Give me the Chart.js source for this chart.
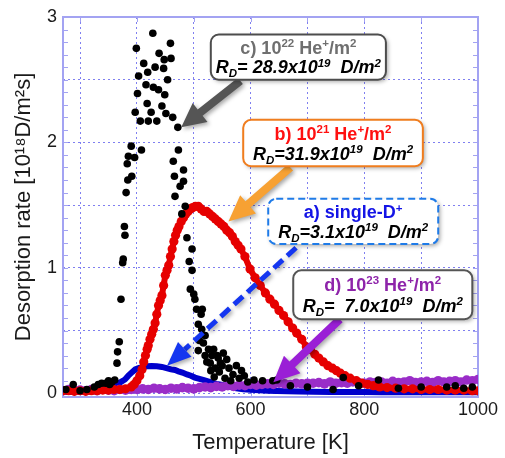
<!DOCTYPE html>
<html>
<head>
<meta charset="utf-8">
<script src="https://cdn.jsdelivr.net/npm/chart.js@4.4.1/dist/chart.umd.min.js"></script>
<style>
  body { margin: 0; background: #fff; }
  #wrap { width: 505px; height: 458px; }
</style>
</head>
<body>
<div id="wrap"><canvas id="tds"></canvas></div>
<script>
// c) 10^22 He+/m2 - black scatter
var blackT = [275, 288, 300, 312, 325, 332, 338, 345, 350, 352, 356, 361,
  365, 366, 369, 372, 375, 376, 378, 379, 381, 383, 384, 385, 390, 391, 396, 397, 399, 401,
  403, 406, 408, 412, 416, 418, 419, 420, 425, 428, 429, 432, 435, 438, 439, 444, 447, 448,
  449, 451, 454, 459, 460, 463, 464, 466, 467, 472, 473, 476, 479, 482, 482, 485, 488, 492,
  494, 497, 497, 500, 502, 505, 508, 508, 510, 513, 514, 515, 517, 520, 520, 523, 526, 529,
  530, 532, 535, 536, 538, 541, 543, 545, 547, 550, 552, 555, 558, 562, 565, 569, 575, 580,
  584, 589, 595, 606, 621, 639, 646, 670, 700, 745, 763, 790, 825, 860, 900, 945, 960, 975, 990];
var blackRate = [0.03, 0.07, 0.02, 0.03, 0.05, 0.07, 0.08, 0.08, 0.10, 0.07, 0.09, 0.105,
  0.24, 0.33, 0.41, 0.75, 1.04, 1.07, 1.33, 1.26, 1.60, 1.83, 1.70, 1.89, 1.97, 1.73, 1.88, 2.24, 2.75, 2.39,
  2.53, 2.17, 1.94, 2.63, 2.46, 2.31, 2.56, 2.17, 2.24, 2.87, 2.44, 2.60, 2.17, 2.42, 2.71, 2.29, 2.59, 2.66,
  2.38, 2.23, 2.50, 2.79, 2.67, 2.20, 1.85, 1.73, 1.57, 2.12, 1.94, 1.65, 1.43, 1.78, 1.69, 1.49, 1.24, 1.05,
  0.83, 1.15, 0.98, 0.79, 0.75, 0.67, 0.55, 0.34, 0.42, 0.63, 0.51, 0.67, 0.40, 0.46, 0.30, 0.25, 0.35, 0.24,
  0.18, 0.30, 0.35, 0.13, 0.20, 0.30, 0.28, 0.17, 0.24, 0.22, 0.32, 0.12, 0.27, 0.20, 0.10, 0.15, 0.22, 0.12,
  0.18, 0.14, 0.09, 0.105, 0.10, 0.10, 0.105, 0.06, 0.05, 0.03, 0.125, 0.06, 0.105, 0.04, 0.05, 0.05, 0.06, 0.04, 0.05];

// b) 10^21 He+/m2 - red
var redT = [270, 280, 290, 300, 310, 320, 330, 340, 350, 360, 370, 380, 390, 395, 400, 405, 409, 412,
  415, 418, 420, 423, 426, 429, 432, 435, 438, 441, 444, 447, 450, 453, 456, 459, 462, 465, 468, 471,
  474, 478, 482, 486, 490, 494, 498, 503, 508, 513, 518, 523, 528, 533, 538, 543, 548, 553, 558, 563,
  568, 573, 578, 583, 590, 599, 608, 617, 626, 634, 642, 650, 658, 666, 674, 681, 690, 698, 705, 713,
  720, 728, 736, 744, 751, 758, 766, 775, 786, 796, 806, 816, 827, 840, 855, 870, 885, 900, 915, 930,
  945, 960, 975, 990, 1000];
var redRate = [0.02, 0.02, 0.015, 0.02, 0.015, 0.02, 0.02, 0.025, 0.025, 0.03, 0.03, 0.035, 0.05, 0.07, 0.10, 0.14, 0.19, 0.25,
  0.30, 0.35, 0.38, 0.43, 0.47, 0.51, 0.56, 0.63, 0.70, 0.74, 0.78, 0.86, 0.94, 0.98, 1.02, 1.09, 1.15, 1.21, 1.26, 1.30,
  1.33, 1.37, 1.40, 1.43, 1.45, 1.47, 1.48, 1.49, 1.49, 1.47, 1.45, 1.45, 1.43, 1.41, 1.39, 1.37, 1.35, 1.33, 1.30, 1.28,
  1.25, 1.21, 1.18, 1.15, 1.09, 0.99, 0.92, 0.86, 0.80, 0.75, 0.71, 0.66, 0.62, 0.57, 0.52, 0.48, 0.43, 0.37, 0.35, 0.31,
  0.28, 0.25, 0.22, 0.20, 0.18, 0.16, 0.14, 0.12, 0.10, 0.08, 0.07, 0.06, 0.05, 0.045, 0.04, 0.035, 0.035, 0.03, 0.03, 0.03,
  0.025, 0.025, 0.025, 0.02, 0.02];

// d) 10^23 He+/m2 - purple
var purpleT = [270, 280, 290, 300, 310, 320, 330, 340, 350, 360, 370, 380, 390,
  400, 410, 420, 430, 440, 450, 460, 470, 480, 490, 500, 510, 520, 530, 540, 550,
  560, 570, 580, 590, 600, 610, 620, 630, 640, 650, 660, 670, 680, 690, 700,
  710, 720, 730, 740, 750, 760, 770, 780, 790, 800, 810, 820, 830, 840, 850,
  860, 870, 880, 890, 900, 910, 920, 930, 940, 950, 960, 970, 980, 990, 1000];
var purpleRate = [0.02, 0.03, 0.02, 0.025, 0.02, 0.03, 0.02, 0.03, 0.025, 0.02, 0.03, 0.025, 0.03,
  0.03, 0.035, 0.03, 0.04, 0.035, 0.03, 0.04, 0.035, 0.045, 0.04, 0.035, 0.045, 0.05, 0.045, 0.055, 0.05,
  0.06, 0.055, 0.065, 0.06, 0.07, 0.065, 0.07, 0.075, 0.07, 0.08, 0.075, 0.07, 0.08, 0.075, 0.08,
  0.08, 0.085, 0.075, 0.09, 0.08, 0.085, 0.08, 0.09, 0.085, 0.08, 0.09, 0.085, 0.09, 0.08, 0.095,
  0.085, 0.09, 0.10, 0.085, 0.09, 0.095, 0.085, 0.10, 0.09, 0.095, 0.10, 0.09, 0.105, 0.10, 0.11];

// a) single-D+ - blue
var blueT = [270, 290, 310, 330, 345, 355, 362, 370, 379, 385, 392, 397, 403, 410, 418, 426, 435, 444,
  452, 460, 467, 473, 480, 488, 495, 502, 510, 518, 525, 532, 540, 548, 555, 565, 575, 587, 600, 615,
  630, 646, 665, 685, 710, 740, 770, 800, 830, 860, 890, 920, 950, 980, 1000];
var blueRate = [0.01, 0.01, 0.01, 0.015, 0.02, 0.04, 0.06, 0.085, 0.11, 0.14, 0.17, 0.19, 0.20, 0.21, 0.215, 0.217, 0.215, 0.21,
  0.20, 0.19, 0.185, 0.175, 0.165, 0.15, 0.14, 0.125, 0.115, 0.105, 0.095, 0.085, 0.075, 0.068, 0.06, 0.05, 0.04, 0.032, 0.027, 0.023,
  0.02, 0.018, 0.015, 0.013, 0.012, 0.01, 0.01, 0.01, 0.008, 0.008, 0.008, 0.008, 0.008, 0.008, 0.008];

function pairs(xs, ys) {
  var out = [];
  for (var i = 0; i < xs.length; i++) out.push({ x: xs[i], y: ys[i] });
  return out;
}

// annotation boxes, in data units [Tleft, Tright, top, bottom]
var notes = [
  { box: [530, 838, 2.86, 2.50], edge: '#4d4d4d', dash: null, c1: '#6f6f6f',
    l1: [['c) 10'], ['22', 'sup'], [' He'], ['+', 'sup'], ['/m'], ['2', 'sup']],
    l2: [['R'], ['D', 'sub'], ['= 28.9x10'], ['19', 'sup'], ['  D/m'], ['2', 'sup']],
    from: [582, 2.49], to: [478, 2.12], arrow: '#555555', shaft: 8, head: 24, headLen: 24, arrowDash: null },
  { box: [587, 903, 2.18, 1.81], edge: '#f07d1e', dash: null, c1: '#ff1010',
    l1: [['b) 10'], ['21', 'sup'], [' He'], ['+', 'sup'], ['/m'], ['2', 'sup']],
    l2: [['R'], ['D', 'sub'], ['=31.9x10'], ['19', 'sup'], ['  D/m'], ['2', 'sup']],
    from: [670, 1.80], to: [561, 1.37], arrow: '#f7a133', shaft: 8, head: 24, headLen: 26, arrowDash: null },
  { box: [631, 930, 1.55, 1.19], edge: '#1f7be8', dash: [7, 4], c1: '#1414e6',
    l1: [['a) single-D'], ['+', 'sup']],
    l2: [['R'], ['D', 'sub'], ['=3.1x10'], ['19', 'sup'], ['  D/m'], ['2', 'sup']],
    from: [680, 1.16], to: [453, 0.22], arrow: '#1436f0', shaft: 5, head: 20, headLen: 24, arrowDash: [12, 6] },
  { box: [675, 990, 0.98, 0.59], edge: '#555555', dash: null, c1: '#8e24aa',
    l1: [['d) 10'], ['23', 'sup'], [' He'], ['+', 'sup'], ['/m'], ['2', 'sup']],
    l2: [['R'], ['D', 'sub'], ['=  7.0x10'], ['19', 'sup'], ['  D/m'], ['2', 'sup']],
    from: [757, 0.59], to: [640, 0.087], arrow: '#9a1fd6', shaft: 8, head: 24, headLen: 26, arrowDash: null }
];

var FONT = '"Liberation Sans", Arial, sans-serif';

function richLine(ctx, segs, cx, cy, size, style, color) {
  var w = 0, parts = [];
  for (var i = 0; i < segs.length; i++) {
    var kind = segs[i][1];
    var s = kind ? size * 0.64 : size;
    ctx.font = style + ' ' + s + 'px ' + FONT;
    var sw = ctx.measureText(segs[i][0]).width;
    parts.push({ t: segs[i][0], s: s, w: sw, dy: kind === 'sup' ? -size * 0.36 : (kind === 'sub' ? size * 0.22 : 0) });
    w += sw;
  }
  var x = cx - w / 2;
  ctx.fillStyle = color;
  ctx.textBaseline = 'alphabetic';
  ctx.textAlign = 'left';
  for (var j = 0; j < parts.length; j++) {
    ctx.font = style + ' ' + parts[j].s + 'px ' + FONT;
    ctx.fillText(parts[j].t, x, cy + size * 0.35 + parts[j].dy);
    x += parts[j].w;
  }
}

function arrow(ctx, x1, y1, x2, y2, n) {
  var dx = x2 - x1, dy = y2 - y1, len = Math.sqrt(dx * dx + dy * dy);
  var ux = dx / len, uy = dy / len, nx = -uy, ny = ux;
  var bx = x2 - ux * n.headLen, by = y2 - uy * n.headLen;
  ctx.fillStyle = n.arrow;
  ctx.strokeStyle = n.arrow;
  if (n.arrowDash) {
    ctx.lineWidth = n.shaft;
    ctx.setLineDash(n.arrowDash);
    ctx.beginPath(); ctx.moveTo(x1, y1); ctx.lineTo(bx, by); ctx.stroke();
    ctx.setLineDash([]);
    ctx.beginPath();
    ctx.moveTo(x2, y2);
    ctx.lineTo(bx + nx * n.head / 2, by + ny * n.head / 2);
    ctx.lineTo(bx - nx * n.head / 2, by - ny * n.head / 2);
    ctx.closePath(); ctx.fill();
  } else {
    var h = n.shaft / 2;
    ctx.beginPath();
    ctx.moveTo(x1 + nx * h, y1 + ny * h);
    ctx.lineTo(bx + nx * h, by + ny * h);
    ctx.lineTo(bx + nx * n.head / 2, by + ny * n.head / 2);
    ctx.lineTo(x2, y2);
    ctx.lineTo(bx - nx * n.head / 2, by - ny * n.head / 2);
    ctx.lineTo(bx - nx * h, by - ny * h);
    ctx.lineTo(x1 - nx * h, y1 - ny * h);
    ctx.closePath(); ctx.fill();
  }
}

var framePlugin = {
  id: 'frame',
  beforeDatasetsDraw: function (chart) {
    var ctx = chart.ctx, a = chart.chartArea, x = chart.scales.x, y = chart.scales.y;
    ctx.save();
    ctx.strokeStyle = '#a3a3f2';
    ctx.lineWidth = 1;
    for (var v = 1; v <= 29; v++) {
      var py = Math.round(y.getPixelForValue(v / 10)) + 0.5;
      ctx.beginPath();
      ctx.moveTo(a.left, py); ctx.lineTo(a.left + 5, py);
      ctx.moveTo(a.right, py); ctx.lineTo(a.right - 5, py);
      ctx.stroke();
    }
    for (var t = 300; t < 1000; t += 100) {
      var px = Math.round(x.getPixelForValue(t)) + 0.5;
      ctx.beginPath();
      ctx.moveTo(px, a.top); ctx.lineTo(px, a.top + 5);
      ctx.moveTo(px, a.bottom); ctx.lineTo(px, a.bottom - 5);
      ctx.stroke();
    }
    ctx.lineWidth = 2;
    ctx.strokeRect(a.left, a.top, a.right - a.left, a.bottom - a.top);
    ctx.restore();
  },
  afterDatasetsDraw: function (chart) {
    var ctx = chart.ctx, x = chart.scales.x, y = chart.scales.y;
    ctx.save();
    notes.forEach(function (n) {
      ctx.save();
      ctx.shadowColor = 'rgba(0,0,0,0.35)';
      ctx.shadowBlur = 4; ctx.shadowOffsetX = 2; ctx.shadowOffsetY = 2;
      arrow(ctx, x.getPixelForValue(n.from[0]), y.getPixelForValue(n.from[1]),
        x.getPixelForValue(n.to[0]), y.getPixelForValue(n.to[1]), n);
      ctx.restore();
    });
    notes.forEach(function (n) {
      var l = x.getPixelForValue(n.box[0]), r = x.getPixelForValue(n.box[1]);
      var t = y.getPixelForValue(n.box[2]), b = y.getPixelForValue(n.box[3]);
      ctx.save();
      ctx.shadowColor = 'rgba(0,0,0,0.35)';
      ctx.shadowBlur = 4; ctx.shadowOffsetX = 2; ctx.shadowOffsetY = 2;
      ctx.beginPath();
      ctx.roundRect(l, t, r - l, b - t, 8);
      ctx.fillStyle = '#fff';
      ctx.fill();
      ctx.restore();
      ctx.beginPath();
      ctx.roundRect(l, t, r - l, b - t, 8);
      ctx.lineWidth = 2;
      ctx.strokeStyle = n.edge;
      ctx.setLineDash(n.dash || []);
      ctx.stroke();
      ctx.setLineDash([]);
      var cx = (l + r) / 2, h = b - t;
      richLine(ctx, n.l1, cx, t + h * 0.29, 18, 'bold', n.c1);
      richLine(ctx, n.l2, cx, t + h * 0.72, 18, 'italic bold', '#000');
    });
    ctx.restore();
  }
};

var ctx = document.getElementById('tds').getContext('2d');
new Chart(ctx, {
  type: 'scatter',
  data: {
    datasets: [
      { label: 'c', data: pairs(blackT, blackRate), backgroundColor: '#000', borderColor: '#000',
        pointRadius: 3.8, pointBorderWidth: 0 },
      { label: 'b', data: pairs(redT, redRate), backgroundColor: '#e60000', borderColor: '#e60000',
        showLine: true, borderWidth: 6, pointRadius: 4.6, pointBorderWidth: 0 },
      { label: 'd', data: pairs(purpleT, purpleRate), backgroundColor: '#9a2dc8', borderColor: '#9a2dc8',
        showLine: true, borderWidth: 6, pointRadius: 4.8, pointBorderWidth: 0 },
      { label: 'a', data: pairs(blueT, blueRate), backgroundColor: '#0000cc', borderColor: '#0000cc',
        showLine: true, borderWidth: 6, pointRadius: 0 }
    ]
  },
  options: {
    responsive: true,
    maintainAspectRatio: false,
    animation: false,
    events: [],
    layout: { padding: { left: 0, right: 27, top: 17, bottom: 0 } },
    plugins: { legend: { display: false }, tooltip: { enabled: false } },
    scales: {
      x: {
        type: 'linear', min: 270, max: 1000,
        afterFit: function (s) { s.height = 61; },
        border: { display: false, dash: [2, 3] },
        grid: { color: '#7f7ff0', lineWidth: 1, drawTicks: false },
        ticks: {
          stepSize: 100, includeBounds: false, padding: 2, color: '#1a1a1a',
          font: { family: FONT, size: 18 },
          callback: function (v) { return v % 200 === 0 ? String(v) : ''; }
        },
        title: { display: true, text: 'Temperature [K]', color: '#1a1a1a',
          font: { family: FONT, size: 22 }, padding: { top: 0, bottom: 2 } }
      },
      y: {
        type: 'linear', min: -0.03, max: 3,
        afterFit: function (s) { s.width = 63; },
        border: { display: false, dash: [2, 3] },
        grid: { color: '#7f7ff0', lineWidth: 1, drawTicks: false },
        ticks: {
          stepSize: 0.5, includeBounds: false, padding: 6, color: '#1a1a1a',
          font: { family: FONT, size: 18 },
          callback: function (v) { return Math.abs(v - Math.round(v)) < 1e-6 ? String(Math.round(v)) : ''; }
        },
        title: { display: true, text: 'Desorption rate [10¹⁸D/m²s]', color: '#1a1a1a',
          font: { family: FONT, size: 22 }, padding: { top: 11, bottom: 0 } }
      }
    }
  },
  plugins: [framePlugin]
});
</script>
</body>
</html>
